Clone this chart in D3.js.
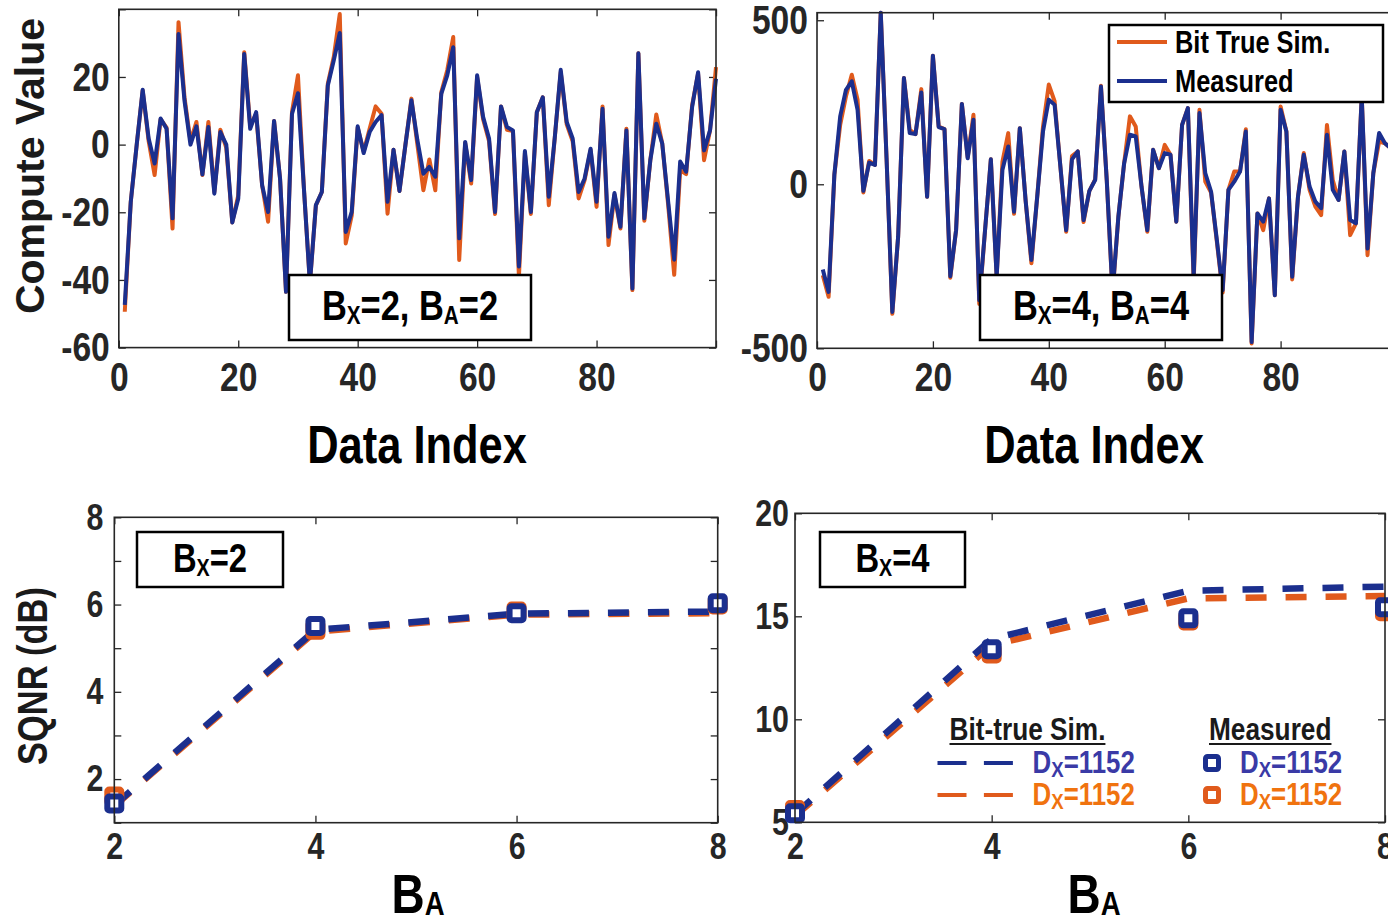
<!DOCTYPE html>
<html>
<head>
<meta charset="utf-8">
<script src="https://cdn.jsdelivr.net/npm/d3@7"></script>
<style>
body { margin: 0; background: #fff; }
svg { display: block; }
text { font-family: "Liberation Sans", Arial, Helvetica, sans-serif; font-weight: bold; }
</style>
</head>
<body>
<svg id="fig" width="1388" height="916"></svg>
<script>
// ---- data ----
const dataIndex = d3.range(1, 101)

// Bx=2, BA=2
const bitTrue22 = [-49.4,-17,0,16,1,-9,7.5,5,-24.8,36.2,14,1,6.7,-9,6.7,-14,4.4,-1,-23,-15,
  27.3,5.5,9,-12,-22.8,7,-10,-43.5,9.6,20.5,-13,-41,-18,-14,18,26,38.6,-29.2,-21,5,
  -2,4.7,11.3,9.1,-20.4,-1.5,-13.7,0,13.6,0,-13.5,-4.4,-13.5,15.5,22,31.8,-34.1,0.5,-11.5,20,
  7.5,1,-20.5,11.3,4.4,4,-39,-2.5,-20.5,9.6,14,-17.9,2,21.5,6,1,-15.9,-10.5,-1.6,-18.4,
  11.3,-29.7,-14.8,-24.8,4.7,-43,27,-22.5,-4.6,8.9,0.3,-18,-38.5,-7.5,-8.7,11.6,21,-4.6,4.2,22.9]
const measured22 = [-47.4,-17,0,16.2,1.8,-5.6,7.7,4.7,-21.8,32.7,13,0,5.4,-8.8,5.2,-14.5,3.7,0,-23,-16,
  26.8,4.7,9.6,-12,-19.9,7,-10,-43.5,9.1,15.2,-13,-41,-17.9,-14,17.5,24.9,33,-25.8,-19.9,5.4,
  -2.5,3.7,6.7,8.7,-16.9,-1.5,-13.7,0,13.1,1.3,-8.6,-6.6,-9.5,15,20.5,28.8,-27.7,0.8,-10.5,20.5,
  8.2,1.8,-19.9,11.3,5.2,4.2,-36,-1.9,-19.9,9.6,14,-15.4,2,22.1,6.7,1.8,-14,-10,-1.2,-16.9,
  10.6,-27.2,-14.3,-24.3,4.2,-42.5,27,-21.8,-4.6,6.2,0.3,-17,-34,-5,-8,11.1,21.4,-1.7,4.2,19.5]

// Bx=4, BA=4
const bitTrue44 = [-277,-343,30,181,268,334,258,-25,71,59,523,80,-395,-160,324,166,153,290,-38,392,
  176,168,-285,-140,245,82,212,-365,-140,76,-282,69,156,-90,171,-50,-241,-38,176,304,
  253,54,-145,86,100,-115,-20,15,300,13,-335,-100,64,207,176,-7,-145,105,49,120,
  90,-114,181,232,-300,227,8,-25,-175,-330,-17,39,39,168,-485,-89,-140,-43,-338,237,
  161,-290,-38,95,-17,-68,-94,181,13,-48,100,-155,-119,268,-216,34,130,125,110,60]
const measured44 = [-260,-328,30,207,288,314,227,-20,66,59,523,80,-389,-160,324,156,153,280,-38,392,
  174,168,-280,-140,245,79,197,-353,-140,76,-282,44,115,-84,171,-50,-231,-38,161,258,
  242,54,-140,76,100,-109,-20,13,298,13,-330,-100,64,151,146,-7,-140,105,49,95,
  90,-114,181,232,-282,217,34,-22,-170,-323,-17,8,39,161,-481,-89,-114,-43,-338,227,
  161,-282,-38,90,-7,-53,-73,151,-17,-48,100,-109,-119,268,-196,34,156,125,110,60]

// SQNR vs BA
const bitsA = [2, 4, 6, 8]
const simBx2Blue = [1.4, 5.42, 5.79, 5.84]
const simBx2Orange = [1.38, 5.38, 5.77, 5.8]
const measBx2Blue = [1.44, 5.51, 5.8, 6.03]
const measBx2Orange = [1.6, 5.42, 5.84, 6.0]
const simBx4Blue = [5.4, 13.9, 16.24, 16.44]
const simBx4Orange = [5.3, 13.6, 15.87, 15.98]
const measBx4Blue = [5.44, 13.4, 14.9, 15.44]
const measBx4Orange = [5.6, 13.2, 14.8, 15.25]

const indexTicks = [0, 20, 40, 60, 80, 100]
const indexLabels = [0, 20, 40, 60, 80]

// ---- style ----
const blue = '#1b2f8e'
const orange = '#e05a1c'
const blueText = '#3a3aa6'
const orangeText = '#f0730f'
const axisColor = '#262626'
const SX = 0.82   // condensed look

const svg = d3.select('#fig')

function ntext(x, y, size) {
  return svg.append('text')
    .attr('transform', `translate(${x},${y}) scale(${SX},1)`)
    .attr('font-size', size)
}

function frame(c) {
  const x = d3.scaleLinear().domain(c.xDomain).range([c.left, c.right])
  const y = d3.scaleLinear().domain(c.yDomain).range([c.bottom, c.top])
  const g = svg.append('g').attr('color', axisColor)
  const fmt = labels => d => labels.includes(d) ? String(d) : ''
  const styleAxis = a => a.attr('font-size', c.fontSize).attr('font-family', null)

  g.append('g').attr('transform', `translate(0,${c.bottom})`)
    .call(d3.axisBottom(x).tickValues(c.xTicks).tickFormat(fmt(c.xLabels))
      .tickSize(-7).tickSizeOuter(0).tickPadding(c.xPad))
    .call(styleAxis)
  g.append('g').attr('transform', `translate(0,${c.top})`)
    .call(d3.axisTop(x).tickValues(c.xTicks).tickFormat('').tickSize(-7).tickSizeOuter(0))
  g.append('g').attr('transform', `translate(${c.left},0)`)
    .call(d3.axisLeft(y).tickValues(c.yTicks).tickFormat(fmt(c.yLabels))
      .tickSize(-7).tickSizeOuter(0).tickPadding(c.yPad / SX))
    .call(styleAxis)
  g.append('g').attr('transform', `translate(${c.right},0)`)
    .call(d3.axisRight(y).tickValues(c.yTicks).tickFormat('').tickSize(-7).tickSizeOuter(0))

  g.selectAll('.domain').remove()
  g.selectAll('.tick line').attr('stroke-width', 1.3)
  g.selectAll('.tick text').attr('fill', axisColor).attr('transform', `scale(${SX},1)`)

  const plot = svg.append('g')
  svg.append('rect')
    .attr('x', c.left).attr('y', c.top)
    .attr('width', c.right - c.left).attr('height', c.bottom - c.top)
    .attr('fill', 'none').attr('stroke', axisColor).attr('stroke-width', 1.6)
  return {x, y, plot}
}

// text with subscripts: parts = [[str, isSub], ...]
function subText(x, y, parts, size, opts = {}) {
  const t = ntext(x, y, size).attr('text-anchor', opts.anchor || 'middle')
    .attr('fill', opts.color || '#000')
  let shift = 0
  const drop = opts.drop || 4
  parts.forEach(([s, sub]) => {
    const want = sub ? drop : 0
    t.append('tspan')
      .attr('font-size', sub ? size * (opts.ratio || 0.6) : size)
      .attr('dy', want - shift)
      .text(s)
    shift = want
  })
  return t
}

function labelBox(x, y, w, h, cx, by, parts, size) {
  svg.append('rect').attr('x', x).attr('y', y).attr('width', w).attr('height', h)
    .attr('fill', '#fff').attr('stroke', '#000').attr('stroke-width', 2.5)
  subText(cx, by, parts, size)
}

function traces(p, xs, series) {
  series.forEach(s => {
    p.plot.append('path')
      .datum(s.values)
      .attr('fill', 'none')
      .attr('stroke', s.color)
      .attr('stroke-width', 4)
      .attr('stroke-linejoin', 'round')
      .attr('d', d3.line().x((d, i) => p.x(xs[i])).y(d => p.y(d)))
  })
}

function sqnr(p, sims, meas) {
  sims.forEach(s => {
    p.plot.append('path')
      .datum(s.values)
      .attr('fill', 'none')
      .attr('stroke', s.color)
      .attr('stroke-width', 6.5)
      .attr('stroke-dasharray', '21,19')
      .attr('d', d3.line().x((d, i) => p.x(bitsA[i])).y(d => p.y(d)))
  })
  meas.forEach(s => {
    p.plot.selectAll(null).data(s.values).enter().append('rect')
      .attr('x', (d, i) => p.x(bitsA[i]) - 7)
      .attr('y', d => p.y(d) - 7)
      .attr('width', 14).attr('height', 14).attr('rx', 2)
      .attr('fill', '#fff').attr('stroke', s.color).attr('stroke-width', 6)
  })
}

// ---- top left ----
const tl = frame({left: 118.8, right: 716, top: 9.3, bottom: 347.6,
  xDomain: [0, 100], yDomain: [-60, 40],
  xTicks: indexTicks, xLabels: indexLabels,
  yTicks: [-60, -40, -20, 0, 20, 40], yLabels: [-60, -40, -20, 0, 20],
  fontSize: 41, xPad: 14, yPad: 9})
traces(tl, dataIndex, [{values: bitTrue22, color: orange}, {values: measured22, color: blue}])
labelBox(289, 275, 242, 65, 410, 320, [['B'], ['X', 1], ['=2, B'], ['A', 1], ['=2']], 42)

// ---- top right ----
const tr = frame({left: 817, right: 1396.5, top: 12.7, bottom: 348.3,
  xDomain: [0, 100], yDomain: [-500, 523],
  xTicks: indexTicks, xLabels: indexLabels,
  yTicks: [-500, 0, 500], yLabels: [-500, 0, 500],
  fontSize: 41, xPad: 14, yPad: 9})
traces(tr, dataIndex, [{values: bitTrue44, color: orange}, {values: measured44, color: blue}])
labelBox(980, 275, 242, 65, 1101, 320, [['B'], ['X', 1], ['=4, B'], ['A', 1], ['=4']], 42)

// legend top right
svg.append('rect').attr('x', 1109).attr('y', 25).attr('width', 274).attr('height', 77)
  .attr('fill', '#fff').attr('stroke', '#000').attr('stroke-width', 2.5)
;[['Bit True Sim.', orange, 42], ['Measured', blue, 81]].forEach(([name, col, yy]) => {
  svg.append('line').attr('x1', 1117).attr('x2', 1167).attr('y1', yy).attr('y2', yy)
    .attr('stroke', col).attr('stroke-width', 4)
  ntext(1175, yy + 11, 31).text(name)
})

// ---- bottom left ----
const bl = frame({left: 114.3, right: 717.7, top: 517.3, bottom: 822.7,
  xDomain: [2, 8], yDomain: [1, 8],
  xTicks: bitsA, xLabels: bitsA,
  yTicks: [1, 2, 3, 4, 5, 6, 7, 8], yLabels: [2, 4, 6, 8],
  fontSize: 37, xPad: 10, yPad: 11})
sqnr(bl, [{values: simBx2Orange, color: orange}, {values: simBx2Blue, color: blue}],
  [{values: measBx2Orange, color: orange}, {values: measBx2Blue, color: blue}])
labelBox(137, 532, 146, 55, 210, 572, [['B'], ['X', 1], ['=2']], 40)

// ---- bottom right ----
const br = frame({left: 795, right: 1385, top: 513.3, bottom: 822.3,
  xDomain: [2, 8], yDomain: [5, 20],
  xTicks: bitsA, xLabels: bitsA,
  yTicks: [5, 10, 15, 20], yLabels: [5, 10, 15, 20],
  fontSize: 37, xPad: 10, yPad: 6})
sqnr(br, [{values: simBx4Orange, color: orange}, {values: simBx4Blue, color: blue}],
  [{values: measBx4Orange, color: orange}, {values: measBx4Blue, color: blue}])
labelBox(820, 532, 145, 55, 892.5, 572, [['B'], ['X', 1], ['=4']], 40)

// legend bottom right
;[['Bit-true Sim.', 949.5], ['Measured', 1209]].forEach(([name, xx]) => {
  const t = ntext(xx, 740, 32).attr('fill', '#1a1a1a').text(name)
  const w = t.node().getComputedTextLength() * SX
  svg.append('line').attr('x1', xx).attr('x2', xx + w).attr('y1', 744).attr('y2', 744)
    .attr('stroke', '#1a1a1a').attr('stroke-width', 2)
})
;[[blue, blueText, 763], [orange, orangeText, 795]].forEach(([col, tcol, yy]) => {
  svg.append('line').attr('x1', 937.5).attr('x2', 1013).attr('y1', yy).attr('y2', yy)
    .attr('stroke', col).attr('stroke-width', 4).attr('stroke-dasharray', '29,17.4')
  subText(1032.6, yy + 10, [['D'], ['X', 1], ['=1152']], 31.5, {anchor: 'start', color: tcol, ratio: 0.72, drop: 4})
  svg.append('rect').attr('x', 1212 - 6.5).attr('y', yy - 6.5).attr('width', 13).attr('height', 13)
    .attr('rx', 2).attr('fill', '#fff').attr('stroke', col).attr('stroke-width', 5)
  subText(1240, yy + 10, [['D'], ['X', 1], ['=1152']], 31.5, {anchor: 'start', color: tcol, ratio: 0.72, drop: 4})
})

// ---- axis titles ----
svg.append('text').attr('transform', 'translate(44,166) rotate(-90)')
  .attr('text-anchor', 'middle').attr('font-size', 41)
  .attr('fill', '#1a1a1a').text('Compute Value')
svg.append('text').attr('transform', `translate(47,676) rotate(-90) scale(${SX},1)`)
  .attr('text-anchor', 'middle').attr('font-size', 42)
  .attr('fill', '#1a1a1a').text('SQNR (dB)')
;[417, 1094].forEach(cx => {
  ntext(cx, 463, 53).attr('text-anchor', 'middle').text('Data Index')
})
;[418, 1094].forEach(cx => {
  subText(cx, 913, [['B'], ['A', 1]], 56, {drop: 2})
})
</script>
</body>
</html>
